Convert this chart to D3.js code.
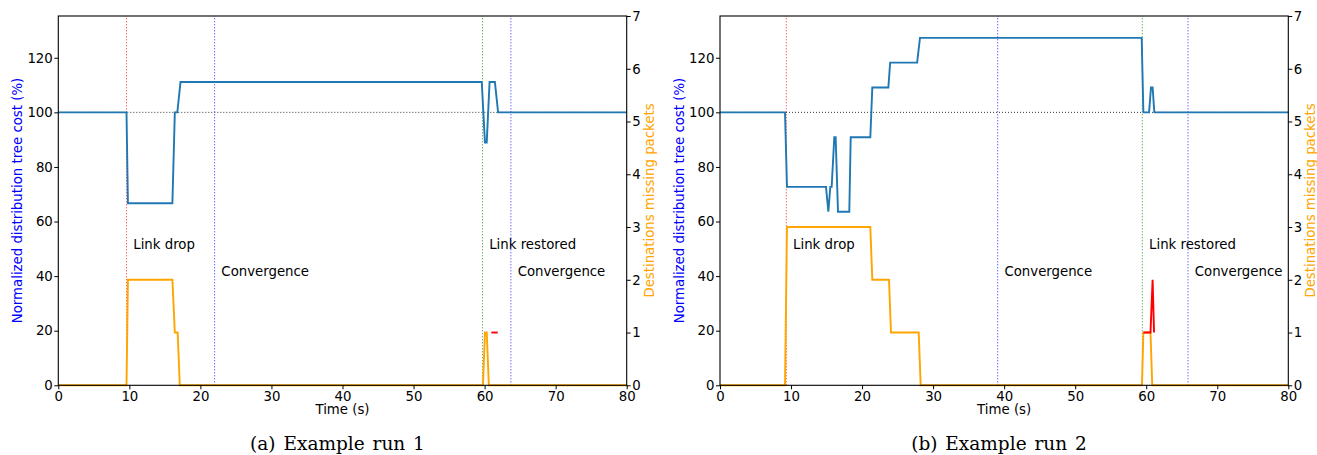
<!DOCTYPE html>
<html><head><meta charset="utf-8">
<script src="https://cdn.jsdelivr.net/npm/d3@7"></script>
<style>body{margin:0;background:#fff}svg{display:block}</style>
</head><body><svg id="c" width="1317" height="455"></svg>
<script>
// ---------- data ----------
const xTicks = [0,10,20,30,40,50,60,70,80];
const costTicks = [0,20,40,60,80,100,120];
const missTicks = [0,1,2,3,4,5,6,7];

const run1CostTime  = [0, 9.6, 9.8, 16.06, 16.4, 16.75, 17.2, 59.6, 60.05, 60.3, 60.7, 61.45, 61.9, 80];
const run1CostValue = [100, 100, 66.7, 66.7, 100, 100, 111.1, 111.1, 88.9, 88.9, 111.1, 111.1, 100, 100];
const run1MissTime  = [0, 9.6, 9.8, 16.06, 16.4, 16.8, 17.1, 59.77, 60.05, 60.3, 60.6, 80];
const run1MissValue = [0, 0, 2, 2, 1, 1, 0, 0, 1, 1, 0, 0];
const run1RedTime   = [60.95, 61.85];
const run1RedValue  = [1, 1];
const run1Events    = [9.6, 22.0, 59.7, 63.7];

const run2CostTime  = [0, 9.15, 9.43, 14.92, 15.25, 15.53, 15.72, 16.09, 16.28, 16.61, 18.2, 18.4, 21.16, 21.44, 23.7, 23.95, 27.75, 28.15, 59.36, 59.6, 60.4, 60.67, 60.9, 61.14, 80];
const run2CostValue = [100, 100, 72.7, 72.7, 63.6, 72.7, 72.7, 90.9, 90.9, 63.6, 63.6, 90.9, 90.9, 109.1, 109.1, 118.2, 118.2, 127.3, 127.3, 100, 100, 109.1, 109.1, 100, 100];
const run2MissTime  = [0, 9.15, 9.43, 21.16, 21.44, 23.79, 24.07, 27.97, 28.25, 59.4, 59.6, 60.6, 60.85, 80];
const run2MissValue = [0, 0, 3, 3, 2, 2, 1, 1, 0, 0, 1, 1, 0, 0];
const run2RedTime   = [59.6, 60.6, 60.9, 61.1];
const run2RedValue  = [1, 1, 2, 1];
const run2Events    = [9.34, 39.09, 59.45, 65.88];

const eventKinds  = ["drop", "conv", "restore", "conv"];
const eventLabels = ["Link drop", "Convergence", "Link restored", "Convergence"];
const eventLabelCost = [50, 40, 50, 40];
const captions = ["(a) Example run 1", "(b) Example run 2"];

// ---------- drawing ----------
const svg = d3.select("#c");
svg.append("rect").attr("width",1317).attr("height",455).attr("fill","#fff");
const FONT = "DejaVu Sans, sans-serif";
const FS = 13.3;
const eventColor = {drop:"red", conv:"blue", restore:"green"};

function zip(a,b){ return a.map((t,i)=>[t,b[i]]); }

function panel(cfg){
  const x = d3.scaleLinear().domain([0,80]).range([cfg.x0, cfg.x1]);
  const yC = d3.scaleLinear().domain([0,135.3]).range([385.3, 16]);
  const yM = d3.scaleLinear().domain([0,7]).range([385.3, 16]);
  const g = svg.append("g");

  g.append("line").attr("x1",x(0)).attr("x2",x(80)).attr("y1",yC(100)).attr("y2",yC(100))
    .attr("stroke","#333").attr("stroke-width",1).attr("stroke-dasharray","1,2");

  cfg.events.forEach((t,i)=>{
    const k = eventKinds[i];
    g.append("line").attr("x1",x(t)).attr("x2",x(t)).attr("y1",yC(0)).attr("y2",16)
      .attr("stroke",eventColor[k]).attr("stroke-width",1)
      .attr("stroke-opacity", 0.85)
      .attr("stroke-dasharray","1,2");
    g.append("text").attr("x",x(t+0.95)).attr("y",yC(eventLabelCost[i]))
      .attr("font-family",FONT).attr("font-size",FS).attr("fill","#000")
      .text(eventLabels[i]);
  });

  const lineC = d3.line().x(d=>x(d[0])).y(d=>yC(d[1]));
  const lineM = d3.line().x(d=>x(d[0])).y(d=>yM(d[1]));
  g.append("path").attr("d",lineC(zip(cfg.costT,cfg.costV))).attr("fill","none")
    .attr("stroke","#1f77b4").attr("stroke-width",1.9);
  g.append("path").attr("d",lineM(zip(cfg.missT,cfg.missV))).attr("fill","none")
    .attr("stroke","orange").attr("stroke-width",1.9);
  g.append("path").attr("d",lineM(zip(cfg.redT,cfg.redV))).attr("fill","none")
    .attr("stroke","red").attr("stroke-width",1.9);

  g.append("rect").attr("x",cfg.x0).attr("y",16).attr("width",cfg.x1-cfg.x0).attr("height",385.3-16)
    .attr("fill","none").attr("stroke","#000").attr("stroke-width",1.1);

  const style = sel=>{
    sel.select(".domain").remove();
    sel.selectAll("text").attr("font-family",FONT).attr("font-size",FS).attr("fill","#000");
    sel.selectAll("line").attr("stroke","#000").attr("stroke-width",1);
  };
  g.append("g").attr("transform",`translate(0,385.3)`)
    .call(d3.axisBottom(x).tickValues(xTicks).tickFormat(d3.format("d")).tickSize(4).tickPadding(2.5)).call(style);
  g.append("g").attr("transform",`translate(${cfg.x0},0)`)
    .call(d3.axisLeft(yC).tickValues(costTicks).tickFormat(d3.format("d")).tickSize(4).tickPadding(1.5)).call(style);
  g.append("g").attr("transform",`translate(${cfg.x1},0)`)
    .call(d3.axisRight(yM).tickValues(missTicks).tickFormat(d3.format("d")).tickSize(4).tickPadding(1.5)).call(style);

  const mid = (cfg.x0+cfg.x1)/2;
  g.append("text").attr("x",mid).attr("y",414).attr("text-anchor","middle")
    .attr("font-family",FONT).attr("font-size",FS).text("Time (s)");
  g.append("text").attr("transform",`translate(${cfg.x0-40.5},200.5) rotate(-90)`).attr("text-anchor","middle")
    .attr("dy","0.35em").attr("font-family",FONT).attr("font-size",FS).attr("fill","blue")
    .text("Normalized distribution tree cost (%)");
  g.append("text").attr("transform",`translate(${cfg.x1+22.5},200.5) rotate(-90)`).attr("text-anchor","middle")
    .attr("dy","0.35em").attr("font-family",FONT).attr("font-size",FS).attr("fill","orange")
    .text("Destinations missing packets");
  g.append("text").attr("x",cfg.capX).attr("y",450).attr("text-anchor","middle")
    .attr("font-family","DejaVu Serif, serif").attr("font-size",18.5)
    .attr("word-spacing",2)
    .text(cfg.caption);
}

panel({x0:58.3, x1:626.7, costT:run1CostTime, costV:run1CostValue, missT:run1MissTime, missV:run1MissValue,
       redT:run1RedTime, redV:run1RedValue, events:run1Events, caption:captions[0], capX:337.5});
panel({x0:720, x1:1288.3, costT:run2CostTime, costV:run2CostValue, missT:run2MissTime, missV:run2MissValue,
       redT:run2RedTime, redV:run2RedValue, events:run2Events, caption:captions[1], capX:999});
</script></body></html>
